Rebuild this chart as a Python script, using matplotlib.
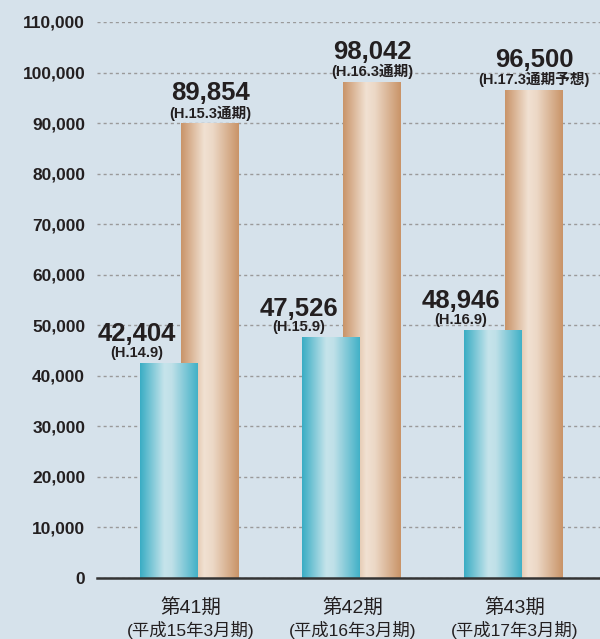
import numpy as np
import matplotlib
matplotlib.use("Agg")
import matplotlib.pyplot as plt
from matplotlib.colors import LinearSegmentedColormap
from matplotlib.ticker import FuncFormatter

# data
categories = ["第41期", "第42期", "第43期"]
periods = ["(平成15年3月期)", "(平成16年3月期)", "(平成17年3月期)"]
half_vals = [42404, 47526, 48946]
half_tags = ["(H.14.9)", "(H.15.9)", "(H.16.9)"]
full_vals = [89854, 98042, 96500]
full_tags = ["(H.15.3通期)", "(H.16.3通期)", "(H.17.3通期予想)"]

BG = "#d6e2eb"
TXT = "#231f20"
FONTS = ["Liberation Sans", "Noto Sans CJK JP"]

blue_cm = LinearSegmentedColormap.from_list(
    "b", [(0, "#3aadc4"), (0.42, "#c6e4eb"), (0.55, "#bfe0e8"), (1, "#42b1c7")])
orange_cm = LinearSegmentedColormap.from_list(
    "o", [(0, "#c99469"), (0.4, "#f1e1d2"), (0.55, "#ecd8c6"), (1, "#c99468")])

fig = plt.figure(figsize=(6, 6.39), dpi=100, facecolor=BG)
ax = fig.add_axes([97/600, 61/639, 503/600, 556/639])
ax.set_facecolor(BG)

px = 1/162.0          # one pixel in x data units
bw = 58*px            # bar width
off = 41*px           # orange shift from blue
x = np.arange(len(categories))
grad = np.linspace(0, 1, 200)[np.newaxis, :]

for i in range(len(x)):
    b0 = x[i] - 49.5*px
    o0 = b0 + off
    ax.imshow(grad, cmap=orange_cm, extent=[o0, o0+bw, 0, full_vals[i]],
              aspect="auto", zorder=2, interpolation="bilinear")
    ax.imshow(grad, cmap=blue_cm, extent=[b0, b0+bw, 0, half_vals[i]],
              aspect="auto", zorder=3, interpolation="bilinear")

    # labels for first-half values, centred near left edge of blue bar
    lx = b0 - 3*px
    ax.annotate(f"{half_vals[i]:,}", (lx, half_vals[i]), xytext=(0, 16),
                textcoords="offset points", ha="center", va="baseline",
                fontsize=18.5, fontweight="bold", family=FONTS, color=TXT, zorder=5)
    ax.annotate(half_tags[i], (lx, half_vals[i]), xytext=(0, 5),
                textcoords="offset points", ha="center", va="baseline",
                fontsize=10.5, fontweight="bold", family=FONTS, color=TXT, zorder=5)

    cx = o0 + bw/2
    ax.annotate(f"{full_vals[i]:,}", (cx, full_vals[i]), xytext=(0, 17),
                textcoords="offset points", ha="center", va="baseline",
                fontsize=18.5, fontweight="bold", family=FONTS, color=TXT, zorder=5)
    ax.annotate(full_tags[i], (cx, full_vals[i]), xytext=(0, 4.5),
                textcoords="offset points", ha="center", va="baseline",
                fontsize=10.5, fontweight="bold", family=FONTS, color=TXT, zorder=5)

    ax.text(x[i] + 1*px, -0.052, categories[i], transform=ax.get_xaxis_transform(),
            ha="center", va="center", fontsize=14, family=FONTS, color=TXT)
    ax.text(x[i] + 1*px, -0.0935, periods[i], transform=ax.get_xaxis_transform(),
            ha="center", va="center", fontsize=12.5, family=FONTS, color=TXT)

ax.set_xlim(-92.5*px, -92.5*px + 503*px)
ax.set_ylim(0, 110000)
ax.set_yticks(np.arange(0, 110001, 10000))
ax.yaxis.set_major_formatter(FuncFormatter(lambda v, p: f"{int(v):,}"))
ax.tick_params(axis="y", length=0, pad=8.5, labelsize=12.5, labelcolor=TXT)
for lab in ax.get_yticklabels():
    lab.set_fontweight("bold")
    lab.set_family(FONTS)
ax.set_xticks([])
ax.grid(axis="y", color="#9a9a9a", linestyle=(0, (2.2, 2.2)), linewidth=1, zorder=0)
ax.set_axisbelow(True)
for s in ["top", "right", "left"]:
    ax.spines[s].set_visible(False)
ax.spines["bottom"].set_color("#333333")
ax.spines["bottom"].set_linewidth(1.8)
ax.spines["bottom"].set_zorder(6)

fig.savefig("out.png", dpi=100, facecolor=BG)
